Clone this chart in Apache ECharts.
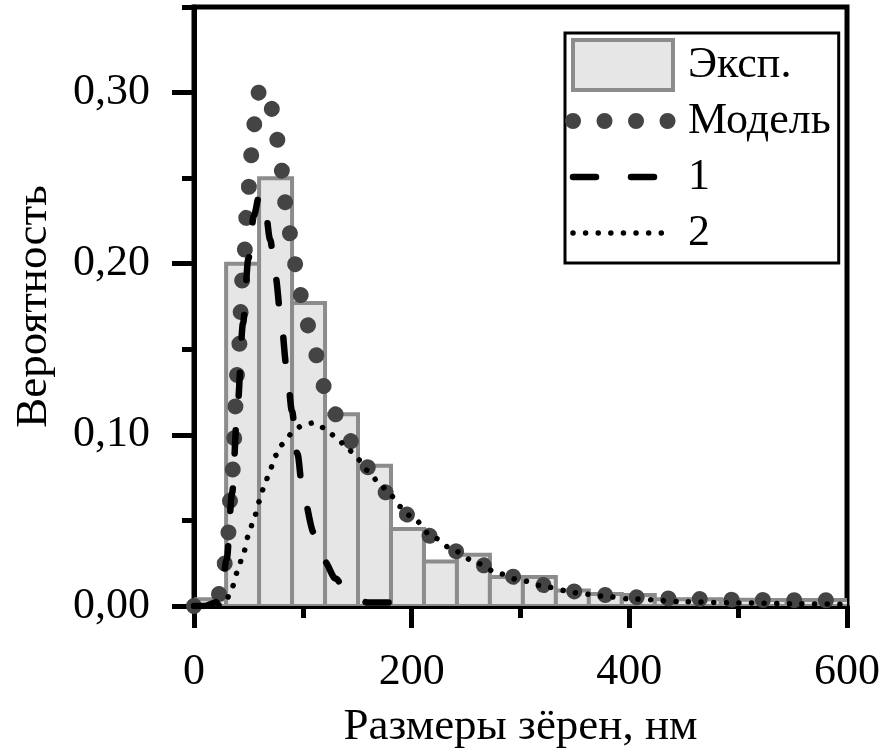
<!DOCTYPE html>
<html>
<head>
<meta charset="utf-8">
<script src="https://cdn.jsdelivr.net/npm/echarts@6/dist/echarts.min.js"></script>
<style>
	html, body { margin: 0; padding: 0; background: #fff; }
	#chart { width: 886px; height: 755px; }
</style>
</head>
<body>
<div id="chart"></div>
<script>
	'use strict';

	// histogram bins (grain size, nm) and measured probability
	var binEdges = [0, 29.5, 59.8, 90.1, 120.4, 150.7, 181, 211.3, 241.6, 271.9, 302.2, 332.5, 362.8, 393.1, 423.4, 453.7, 484, 514.3, 544.6, 574.9, 605.2];
	var binProb = [0.004, 0.200, 0.250, 0.177, 0.112, 0.082, 0.045, 0.026, 0.030, 0.017, 0.017, 0.009, 0.007, 0.0064, 0.004, 0.004, 0.0037, 0.0035, 0.0035, 0.0035];

	// curves sampled at these sizes
	var sizeGrid = [0, 10, 20, 25, 30, 35, 40, 45, 50, 55, 60, 65, 70, 75, 80, 85, 90, 95, 100, 110, 120, 130, 140, 150, 160, 170, 180, 190, 200, 220, 240, 260, 280, 300, 325, 350, 375, 400, 450, 500, 550, 600];
	var modelValues = [0, 0, 0.002, 0.010, 0.031, 0.077, 0.137, 0.194, 0.244, 0.281, 0.301, 0.303, 0.294, 0.278, 0.256, 0.232, 0.211, 0.193, 0.176, 0.150, 0.128, 0.112, 0.100, 0.090, 0.081, 0.071, 0.064, 0.057, 0.051, 0.040, 0.032, 0.025, 0.020, 0.016, 0.012, 0.0085, 0.0065, 0.0052, 0.0042, 0.0037, 0.0034, 0.0033];
	var curve1Values = [0, 0, 0.002, 0.009, 0.027, 0.066, 0.117, 0.165, 0.203, 0.228, 0.240, 0.234, 0.214, 0.192, 0.167, 0.140, 0.114, 0.089, 0.066, 0.043, 0.026, 0.016, 0.009, 0.004, 0.002, 0.002, 0.002, 0.002, 0.001, null, null, null, null, null, null, null, null, null, null, null, null, null];
	var curve2Values = [0, 0, 0, 0.001, 0.004, 0.011, 0.020, 0.030, 0.041, 0.051, 0.061, 0.071, 0.080, 0.088, 0.094, 0.098, 0.101, 0.104, 0.106, 0.107, 0.104, 0.099, 0.093, 0.086, 0.079, 0.072, 0.065, 0.058, 0.052, 0.040, 0.032, 0.025, 0.019, 0.015, 0.011, 0.0078, 0.0058, 0.0042, 0.0025, 0.0018, 0.0013, 0.001];

	var xTicks = [0, 200, 400, 600];
	var yMajorTicks = [0, 0.1, 0.2, 0.3];
	var yMinorTicks = [0.05, 0.15, 0.25, 0.35];

	var FONT = 'Liberation Serif';

	var pairs = function(xs, ys) {
		var out = [];
		for (var i = 0; i < xs.length; i++) {
			out.push([xs[i], ys[i]]);
		}
		return out;
	};

	var bins = [];
	for (var i = 0; i < binProb.length; i++) {
		bins.push([binEdges[i], binEdges[i + 1], binProb[i]]);
	}

	var renderBin = function(params, api) {
		var p0 = api.coord([api.value(0), api.value(2)]);
		var p1 = api.coord([api.value(1), 0]);
		return {
			type: 'rect',
			shape: { x: p0[0], y: p0[1], width: p1[0] - p0[0], height: p1[1] - p0[1] },
			style: { fill: '#e6e6e6', stroke: '#8c8c8c', lineWidth: 4 }
		};
	};

	var tickLine = { color: '#000', width: 5 };

	var chart = echarts.init(document.getElementById('chart'));
	chart.setOption({
		animation: false,
		grid: {
			left: 194, right: 39, top: 7, bottom: 146,
			show: true, borderColor: '#000', borderWidth: 5, backgroundColor: 'transparent'
		},
		legend: {
			orient: 'vertical',
			left: 565, top: 33,
			itemWidth: 100, itemHeight: 50, itemGap: 0,
			padding: [4, 8, 2, 0],
			borderColor: '#000', borderWidth: 3,
			backgroundColor: '#fff',
			textStyle: { fontFamily: FONT, fontSize: 44, lineHeight: 56, color: '#000', padding: [0, 0, 0, 10] },
			lineStyle: { width: 'inherit' },
			// hide the marker the line series put in the middle of their icon
			itemStyle: { opacity: 0 },
			selectedMode: false,
			data: [
				{ name: 'Эксп.', icon: 'rect', itemStyle: { color: '#e6e6e6', borderColor: '#8c8c8c', borderWidth: 4, opacity: 1 } },
				'Модель', '1', '2'
			]
		},
		xAxis: {
			type: 'value', min: 0, max: 600, interval: 200,
			name: 'Размеры зёрен, нм', nameLocation: 'middle', nameGap: 99,
			nameTextStyle: { fontFamily: FONT, fontSize: 45, color: '#000' },
			axisLine: { lineStyle: tickLine },
			axisTick: { length: 22, lineStyle: tickLine, customValues: xTicks },
			minorTick: { show: true, splitNumber: 2, length: 12, lineStyle: tickLine },
			splitLine: { show: false },
			axisLabel: { fontFamily: FONT, fontSize: 44, color: '#000', margin: 44, customValues: xTicks }
		},
		yAxis: [{
			type: 'value', min: 0, max: 0.35, interval: 0.1,
			name: 'Вероятность', nameLocation: 'middle', nameGap: 137,
			nameTextStyle: { fontFamily: FONT, fontSize: 45, color: '#000' },
			axisLine: { lineStyle: tickLine },
			axisTick: { length: 22, lineStyle: tickLine, customValues: yMajorTicks },
			splitLine: { show: false },
			axisLabel: {
				fontFamily: FONT, fontSize: 44, color: '#000', margin: 44,
				customValues: yMajorTicks,
				formatter: function(v) { return v.toFixed(2).replace('.', ','); }
			}
		}, {
			type: 'value', min: 0, max: 0.35, position: 'left',
			axisLine: { show: false },
			axisTick: { show: true, length: 12, lineStyle: tickLine, customValues: yMinorTicks },
			axisLabel: { show: false },
			splitLine: { show: false }
		}],
		series: [{
			type: 'custom',
			name: 'Эксп.',
			renderItem: renderBin,
			clip: true,
			itemStyle: { color: '#e6e6e6' },
			encode: { x: [0, 1], y: 2 },
			data: bins
		}, {
			type: 'line',
			name: 'Модель',
			symbol: 'none',
			smooth: 0.3,
			smoothMonotone: 'x',
			lineStyle: { color: '#444', width: 16, type: [0.01, 31.5], cap: 'round' },
			itemStyle: { color: '#444' },
			data: pairs(sizeGrid, modelValues)
		}, {
			type: 'line',
			name: '1',
			symbol: 'none',
			smooth: 0.3,
			smoothMonotone: 'x',
			lineStyle: { color: '#000', width: 6.5, type: [23, 35], cap: 'round' },
			itemStyle: { color: '#000' },
			data: pairs(sizeGrid, curve1Values)
		}, {
			type: 'line',
			name: '2',
			symbol: 'none',
			smooth: 0.3,
			smoothMonotone: 'x',
			lineStyle: { color: '#000', width: 5.5, type: [0.01, 12.6], cap: 'round' },
			itemStyle: { color: '#000' },
			data: pairs(sizeGrid, curve2Values)
		}]
	});
</script>
</body>
</html>
